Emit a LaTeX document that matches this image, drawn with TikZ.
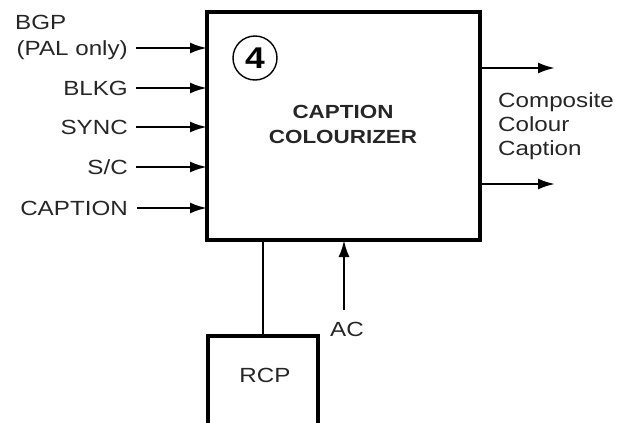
\documentclass[tikz,border=0pt]{standalone}
\usepackage{fontspec}
\setmainfont[FakeStretch=1.18]{Liberation Sans}
\usetikzlibrary{arrows.meta}
\begin{document}
\begin{tikzpicture}[x=1pt,y=-1pt,
  lbl/.style={font=\fontsize{20.5}{24}\selectfont, text=black!85, inner sep=0pt},
  arr/.style={line width=2.4pt, -{Latex[length=17pt,width=11pt]}},
  thickbox/.style={draw, line width=4.5pt, inner sep=0pt, outer sep=0pt},
  conn/.style={line width=1.8pt}]
\useasboundingbox (0,0) rectangle (622,423);
% main box
\node[thickbox, minimum width=273pt, minimum height=228pt] (box) at (343.5,126) {};
\node[draw, circle, line width=1.4pt, minimum size=44pt, inner sep=0pt,
      font=\fontsize{30}{30}\selectfont\bfseries] (four) at (255,58) {4};
\node[lbl, font=\fontsize{19}{25}\selectfont\bfseries, align=center] (title) at (343,124) {CAPTION\\COLOURIZER};
% inputs
\node[lbl, anchor=west] (bgp) at (15,22) {BGP};
\node[lbl, anchor=east] (pal) at (128,50) {(PAL only)};
\node[lbl, anchor=east] (blkg) at (128,88) {BLKG};
\node[lbl, anchor=east] (sync) at (128,127) {SYNC};
\node[lbl, anchor=east] (sc) at (128,167) {S/C};
\node[lbl, anchor=east] (cap) at (128,208) {CAPTION};
\coordinate (i1) at (136,48);
\coordinate (i2) at (136,88);
\coordinate (i3) at (136,127);
\coordinate (i4) at (136,167);
\coordinate (i5) at (137,208);
\foreach \c in {i1,i2,i3,i4,i5} \draw[arr] (\c) -- (\c -| box.west);
% outputs
\coordinate (o1) at (555,68);
\coordinate (o2) at (555,184);
\draw[arr] (o1 -| box.east) -- (o1);
\draw[arr] (o2 -| box.east) -- (o2);
\node[lbl, anchor=west, align=left] (comp) at (498,126) {Composite\\Colour\\Caption};
% RCP
\node[thickbox, minimum width=110pt, minimum height=114pt] (rcp) at (263,393) {};
\node[lbl] (rcptext) at (265,375) {RCP};
\draw[conn] (rcp.north) -- (rcp.north |- box.south);
% AC
\node[lbl] (ac) at (347,329) {AC};
\coordinate (acs) at (344,310);
\draw[arr] (acs) -- (acs |- box.south);
\end{tikzpicture}
\end{document}
